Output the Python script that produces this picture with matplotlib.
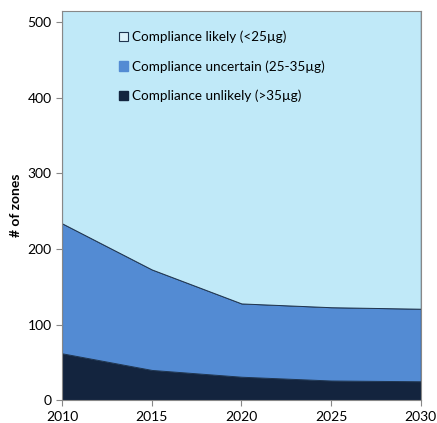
import matplotlib
matplotlib.use("Agg")
import matplotlib.pyplot as plt
from matplotlib.patches import Patch

years = [2010, 2015, 2020, 2025, 2030]
unlikely = [62, 40, 31, 26, 25]
uncertain = [172, 133, 97, 97, 96]
likely = [281, 342, 387, 392, 394]
labels = ["Compliance unlikely (>35µg)", "Compliance uncertain (25-35µg)", "Compliance likely (<25µg)"]
colors = ["#13243E", "#538BD3", "#C0E9F8"]

plt.rcParams['font.family'] = ['Lato', 'DejaVu Sans']

fig = plt.figure(figsize=(4.37, 4.23), dpi=100)
ax = fig.add_axes([0.142, 0.054, 0.821, 0.920])
ax.stackplot(years, unlikely, uncertain, likely, colors=colors,
             edgecolor="#1F3550", linewidth=0.7)
ax.set_xlim(2010, 2030)
ax.set_ylim(0, 515)
ax.set_xticks(years)
ax.set_yticks([0, 100, 200, 300, 400, 500])
ax.tick_params(direction='out', length=4, color='#888888', labelsize=10)
for s in ax.spines.values():
    s.set_color('#888888')
    s.set_linewidth(0.8)
ax.set_ylabel("# of zones", fontsize=10, fontweight='bold', labelpad=4)

handles = [Patch(facecolor="#DDF3FB", edgecolor="#1F3550", linewidth=0.8),
           Patch(facecolor=colors[1], edgecolor=colors[1]),
           Patch(facecolor=colors[0], edgecolor=colors[0])]
leg = ax.legend(handles, [labels[2], labels[1], labels[0]], loc='upper left',
                bbox_to_anchor=(0.125, 0.98), frameon=False, fontsize=9.7,
                handlelength=0.7, handleheight=0.7, handletextpad=0.3,
                labelspacing=1.25)

fig.savefig("out.png", dpi=100)
